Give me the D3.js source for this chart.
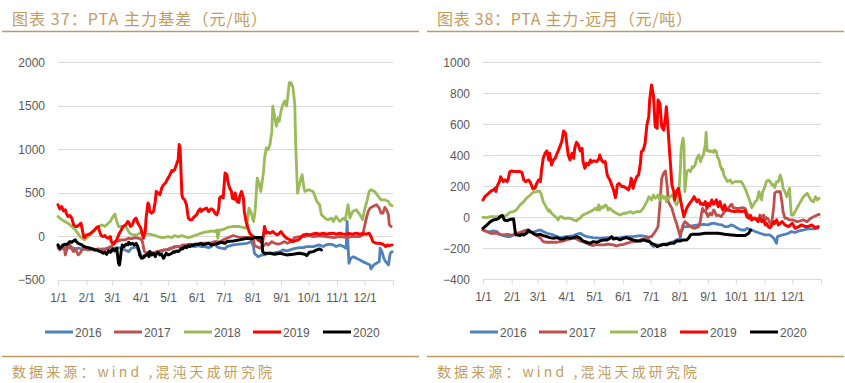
<!DOCTYPE html>
<html><head><meta charset="utf-8">
<script src="https://cdn.jsdelivr.net/npm/d3@7"></script>
<style>
html,body{margin:0;padding:0;background:#fff;}
svg{display:block;}
</style></head>
<body>
<svg id="c" width="845" height="383"></svg>
<script>
// ---------- data ----------
const titles = ["图表 37：PTA 主力基差（元/吨）", "图表 38：PTA 主力-远月（元/吨）"];
const sourceText = "数据来源：wind ,混沌天成研究院";
const years = ["2016", "2017", "2018", "2019", "2020"];
const monthLabels = ["1/1","2/1","3/1","4/1","5/1","6/1","7/1","8/1","9/1","10/1","11/1","12/1"];
const monthDays = [0,31,59,90,120,151,181,212,243,273,304,334];
const yearEndDay = 365;
const basisTicks = [-500, 0, 500, 1000, 1500, 2000];
const spreadTicks = [-400, -200, 0, 200, 400, 600, 800, 1000];

// 基差 [day of year, 元/吨]
const basis2016 = [[0,-138],[4,-146],[8,-131],[11,-138],[15,-131],[19,-146],[22,-138],[26,-146],[29,-146],[33,-158],[37,-146],[40,-158],[44,-158],[48,-146],[51,-146],[55,-138],[58,-146],[62,-138],[66,-131],[69,-138],[73,-158],[77,-177],[80,-138],[86,-119],[87,-158],[89,-177],[91,-235],[95,-215],[98,-208],[102,-196],[106,-196],[109,-185],[113,-177],[116,-158],[120,-158],[124,-138],[127,-119],[131,-119],[135,-131],[138,-119],[142,-100],[146,-100],[149,-119],[153,-108],[156,-119],[160,-119],[164,-131],[167,-119],[171,-62],[173,-119],[175,-131],[178,-138],[182,-146],[184,-119],[191,-100],[198,-92],[206,-81],[211,-62],[213,-119],[214,-196],[216,-215],[218,-235],[222,-215],[225,-215],[229,-196],[234,-196],[238,-185],[242,-177],[245,-158],[249,-169],[253,-158],[256,-146],[260,-138],[263,-131],[267,-131],[271,-119],[274,-119],[278,-119],[282,-108],[285,-100],[289,-119],[292,-100],[296,-92],[300,-100],[303,-119],[307,-100],[311,-119],[314,-138],[315,169],[316,-100],[317,-311],[319,-254],[322,-235],[325,-254],[329,-273],[332,-292],[336,-311],[340,-330],[341,-377],[344,-330],[347,-311],[350,-292],[351,-138],[353,-177],[355,-254],[357,-292],[360,-330],[362,-196],[364,-177]];
const basis2017 = [[0,-119],[2,-158],[5,-100],[7,-146],[8,-215],[10,-138],[13,-100],[15,-146],[17,-177],[19,-146],[22,-215],[24,-196],[26,-158],[29,-146],[33,-158],[37,-146],[40,-158],[44,-146],[48,-158],[51,-158],[55,-131],[58,-119],[62,-62],[66,-54],[69,-42],[73,-42],[77,-23],[80,-31],[84,-15],[87,-23],[90,-31],[92,-62],[94,-177],[97,-196],[100,-177],[104,-196],[107,-177],[111,-169],[115,-158],[118,-158],[122,-138],[126,-131],[129,-119],[133,-119],[136,-100],[140,-100],[144,-92],[147,-100],[151,-92],[155,-92],[158,-81],[162,-81],[165,-81],[169,-69],[173,-62],[176,-65],[180,-42],[184,-23],[191,8],[198,-15],[206,-15],[211,-15],[213,-42],[214,-100],[216,-119],[220,-138],[223,-119],[227,-81],[229,-100],[233,-62],[236,-81],[240,-92],[243,-81],[247,-62],[250,-81],[254,-62],[258,-15],[263,-4],[269,-4],[273,8],[278,-4],[285,4],[292,-4],[300,-15],[307,-4],[314,-12],[321,-4],[329,-4],[332,15],[334,112],[336,208],[338,285],[340,323],[343,342],[347,362],[350,323],[352,265],[354,265],[356,331],[358,304],[360,246],[361,131],[363,112]];
const basis2018 = [[0,227],[3,200],[6,177],[11,150],[15,112],[19,73],[24,-4],[29,-42],[33,-4],[37,35],[40,73],[44,112],[48,131],[51,112],[53,131],[57,169],[59,208],[62,254],[64,169],[66,112],[69,112],[73,123],[75,92],[78,35],[82,15],[86,15],[89,35],[93,35],[97,23],[100,23],[106,8],[109,-4],[113,-15],[116,-12],[120,-4],[124,-15],[127,8],[131,-8],[135,8],[138,-4],[142,-15],[146,-4],[149,8],[153,23],[156,35],[160,46],[164,54],[167,62],[171,54],[173,73],[174,-23],[176,73],[178,73],[182,85],[184,100],[191,112],[198,112],[204,92],[206,131],[208,323],[210,285],[213,169],[214,227],[215,323],[217,669],[219,612],[221,515],[222,592],[224,746],[225,900],[227,1015],[229,996],[231,1054],[233,1208],[234,1496],[236,1381],[238,1265],[240,1362],[241,1323],[243,1438],[245,1515],[247,1554],[249,1496],[250,1573],[252,1765],[254,1765],[256,1708],[258,1515],[259,1054],[261,496],[263,592],[266,708],[268,554],[269,515],[273,535],[278,515],[282,400],[285,362],[287,246],[291,208],[294,188],[298,208],[300,169],[303,227],[307,169],[311,208],[313,188],[316,362],[318,208],[321,285],[325,304],[329,246],[332,188],[334,304],[337,419],[339,515],[341,535],[345,515],[349,458],[352,419],[356,419],[360,400],[362,362],[364,350]];
const basis2019 = [[0,362],[2,315],[4,342],[6,292],[8,304],[9,265],[11,227],[13,238],[15,208],[17,131],[19,112],[21,112],[23,131],[25,150],[26,100],[28,-4],[29,-15],[31,15],[34,23],[37,46],[40,73],[42,100],[44,112],[45,62],[47,8],[49,-4],[51,8],[53,-15],[55,-23],[57,-4],[58,-62],[61,-90],[64,-42],[66,15],[69,73],[71,112],[74,131],[76,169],[77,162],[79,112],[81,131],[83,188],[85,208],[87,150],[88,131],[90,100],[92,15],[93,-23],[95,54],[96,208],[98,381],[99,362],[100,285],[102,265],[104,285],[106,400],[107,515],[109,496],[111,477],[113,554],[115,592],[117,611],[118,631],[120,669],[122,708],[124,754],[125,746],[127,765],[129,823],[131,881],[132,1054],[133,1015],[135,477],[136,438],[138,419],[140,362],[142,208],[144,188],[146,188],[147,208],[149,227],[151,246],[153,292],[155,315],[156,285],[158,304],[160,315],[162,323],[164,285],[165,292],[167,315],[169,304],[171,265],[173,246],[175,304],[176,438],[178,458],[180,440],[182,727],[184,708],[185,630],[187,554],[189,515],[190,438],[192,427],[193,496],[195,400],[197,388],[198,458],[200,515],[202,438],[203,285],[205,169],[207,92],[209,35],[211,8],[213,-4],[215,-15],[216,-23],[218,-42],[221,-62],[223,-62],[225,112],[226,73],[227,35],[229,46],[231,35],[234,54],[236,35],[239,15],[241,31],[243,54],[245,23],[247,-4],[249,-23],[253,-42],[256,-62],[258,-54],[262,-42],[264,-23],[267,15],[271,23],[274,15],[278,27],[281,35],[285,23],[289,35],[292,23],[296,31],[300,35],[303,23],[307,35],[310,27],[314,23],[317,31],[321,23],[325,35],[329,23],[332,31],[336,23],[339,35],[341,-4],[343,-62],[347,-81],[350,-81],[354,-92],[357,-119],[359,-100],[361,-108],[364,-100]];
const basis2020 = [[0,-100],[2,-138],[4,-119],[6,-100],[8,-92],[9,-100],[11,-81],[13,-62],[15,-69],[17,-54],[19,-42],[20,-62],[22,-81],[24,-92],[26,-100],[28,-119],[29,-119],[31,-131],[33,-131],[35,-138],[37,-146],[38,-146],[40,-158],[42,-158],[44,-169],[46,-177],[48,-185],[49,-196],[51,-185],[53,-208],[55,-169],[57,-185],[58,-177],[60,-146],[62,-169],[64,-138],[66,-311],[67,-330],[68,-254],[69,-158],[70,-100],[72,-119],[74,-92],[76,-100],[77,-69],[79,-92],[81,-81],[83,-100],[85,-81],[87,-119],[88,-158],[89,-215],[91,-254],[93,-246],[95,-223],[97,-215],[98,-196],[99,-235],[100,-177],[102,-215],[104,-196],[106,-235],[107,-208],[109,-185],[111,-215],[113,-208],[115,-254],[116,-235],[118,-196],[120,-215],[122,-208],[124,-196],[126,-177],[127,-185],[129,-169],[131,-177],[133,-158],[135,-138],[136,-146],[138,-119],[140,-131],[142,-108],[144,-119],[146,-100],[147,-112],[149,-92],[153,-92],[156,-81],[158,-100],[160,-92],[164,-81],[167,-100],[171,-92],[175,-81],[178,-69],[182,-81],[184,-62],[191,-54],[198,-42],[206,-23],[211,-31],[214,-15],[222,-15],[223,-177],[225,-196],[231,-196],[236,-208],[242,-196],[249,-215],[256,-208],[263,-196],[269,-208],[271,-223],[274,-185],[278,-177],[282,-158],[285,-146],[287,-158]];

// 主力-远月 [day of year, 元/吨]
const spread2016 = [[0,-82],[4,-92],[8,-92],[11,-88],[15,-92],[18,-110],[22,-118],[26,-125],[29,-125],[33,-114],[36,-110],[40,-103],[44,-103],[47,-92],[51,-97],[54,-97],[58,-88],[62,-82],[65,-92],[69,-103],[76,-114],[83,-131],[90,-125],[98,-118],[101,-110],[105,-103],[108,-114],[112,-125],[119,-131],[126,-135],[134,-131],[141,-135],[148,-131],[155,-125],[162,-125],[170,-118],[177,-125],[180,-157],[182,-178],[184,-189],[188,-178],[191,-178],[195,-174],[200,-168],[206,-157],[209,-146],[213,-135],[214,-92],[217,-60],[222,-60],[227,-54],[233,-49],[238,-45],[243,-49],[247,-39],[250,-39],[254,-45],[258,-49],[261,-60],[265,-60],[268,-49],[272,-60],[275,-71],[279,-82],[283,-82],[285,-71],[290,-82],[294,-92],[299,-103],[305,-114],[310,-114],[314,-135],[317,-168],[318,-125],[323,-114],[326,-110],[330,-103],[333,-92],[337,-97],[341,-88],[346,-82],[351,-75],[357,-75],[362,-71]];
const spread2017 = [[0,-82],[4,-92],[8,-103],[11,-103],[15,-103],[18,-110],[22,-114],[26,-110],[29,-114],[33,-114],[36,-103],[40,-97],[44,-88],[47,-82],[51,-92],[54,-103],[58,-118],[62,-135],[65,-157],[69,-161],[72,-161],[76,-161],[80,-161],[83,-157],[87,-153],[90,-146],[94,-140],[98,-135],[101,-140],[105,-153],[108,-157],[112,-168],[116,-178],[119,-183],[123,-174],[126,-178],[130,-178],[134,-174],[137,-174],[141,-178],[144,-185],[148,-178],[152,-174],[155,-168],[159,-161],[162,-157],[166,-153],[170,-146],[173,-140],[177,-135],[180,-125],[182,-125],[186,-92],[189,-60],[191,80],[193,252],[195,284],[197,299],[199,198],[200,101],[202,80],[204,58],[206,15],[207,-6],[209,-39],[211,-82],[213,-125],[214,-92],[216,-49],[218,-28],[222,-49],[226,-67],[229,-71],[233,-60],[235,-17],[236,26],[237,58],[238,37],[240,47],[242,15],[243,4],[245,26],[247,15],[249,47],[250,41],[252,11],[254,15],[257,4],[261,37],[265,58],[268,84],[269,84],[270,62],[274,58],[277,58],[280,62],[283,58],[285,26],[287,15],[290,-2],[294,-6],[297,-17],[299,15],[301,-6],[303,15],[305,-17],[306,-2],[308,-11],[310,-39],[312,-28],[314,69],[315,155],[317,166],[321,166],[323,90],[324,37],[326,-6],[328,-6],[331,-17],[335,-17],[339,-28],[342,-24],[346,-17],[350,-28],[353,-11],[357,4],[361,15],[363,19]];
const spread2018 = [[0,0],[4,-2],[8,4],[11,4],[15,4],[18,-2],[22,4],[26,15],[29,32],[33,37],[36,47],[40,80],[44,101],[47,123],[51,144],[54,161],[58,166],[61,170],[63,148],[65,101],[67,80],[69,58],[71,37],[72,47],[74,26],[76,15],[78,4],[80,-6],[81,-17],[83,4],[85,4],[87,-6],[90,-6],[94,-6],[98,-17],[101,-24],[103,-11],[105,-6],[107,11],[108,15],[112,26],[116,37],[119,47],[121,58],[123,47],[125,80],[126,47],[128,69],[130,62],[132,80],[134,69],[135,47],[137,58],[139,47],[141,37],[144,26],[148,15],[152,26],[155,26],[159,37],[162,26],[166,37],[170,37],[173,58],[175,80],[177,101],[179,133],[180,127],[182,112],[184,144],[186,123],[188,133],[189,144],[191,112],[193,144],[195,123],[197,133],[198,101],[200,123],[202,133],[204,144],[206,123],[207,101],[209,80],[211,101],[213,295],[214,445],[216,510],[217,467],[218,166],[220,295],[222,305],[224,295],[226,327],[227,320],[229,338],[231,381],[233,402],[235,359],[236,381],[238,402],[240,467],[241,548],[242,428],[243,434],[245,424],[247,428],[249,419],[250,434],[252,424],[253,391],[255,370],[256,338],[258,305],[259,312],[260,273],[262,252],[264,230],[267,241],[269,219],[272,230],[275,230],[279,230],[281,209],[283,187],[285,155],[287,123],[289,90],[290,62],[292,80],[294,101],[296,112],[298,166],[300,123],[301,112],[302,166],[303,176],[305,209],[306,230],[308,241],[310,230],[312,209],[313,213],[315,191],[317,230],[319,230],[321,273],[323,230],[324,187],[326,166],[328,133],[330,166],[331,187],[332,90],[333,15],[335,15],[337,37],[339,58],[341,80],[343,101],[344,112],[346,133],[348,144],[350,155],[351,144],[353,123],[355,105],[357,101],[359,133],[361,112],[363,123]];
const spread2019 = [[0,112],[2,133],[4,144],[6,155],[8,166],[9,170],[11,176],[13,187],[14,166],[15,198],[18,234],[19,262],[21,241],[22,230],[24,241],[26,230],[27,241],[29,295],[31,299],[33,295],[36,295],[40,295],[42,290],[44,241],[46,230],[49,241],[51,226],[53,198],[54,183],[56,187],[58,219],[60,241],[62,230],[63,295],[65,381],[67,413],[69,428],[71,370],[72,413],[74,338],[76,370],[78,381],[80,413],[81,424],[83,456],[85,488],[87,557],[89,542],[90,499],[92,402],[94,370],[96,413],[98,381],[99,445],[101,484],[103,467],[105,428],[107,445],[108,363],[110,316],[112,348],[114,338],[116,370],[117,355],[119,363],[121,363],[123,359],[125,376],[126,402],[128,370],[130,355],[132,359],[134,277],[135,262],[137,241],[139,209],[141,176],[143,127],[144,155],[145,209],[147,219],[150,198],[152,198],[155,187],[157,176],[159,209],[160,252],[161,234],[162,187],[164,230],[166,262],[168,273],[170,348],[171,424],[173,434],[175,477],[177,596],[179,649],[180,757],[182,854],[184,789],[186,585],[188,574],[189,757],[191,735],[193,585],[195,563],[197,639],[198,714],[200,553],[202,381],[204,209],[206,166],[207,112],[209,166],[211,187],[213,123],[215,58],[217,4],[218,26],[220,58],[222,80],[226,112],[228,133],[231,101],[233,112],[235,84],[236,90],[238,80],[240,101],[242,58],[243,90],[245,75],[247,112],[249,84],[250,90],[252,112],[254,69],[256,101],[257,75],[259,47],[261,80],[263,47],[265,47],[268,41],[272,37],[275,41],[279,37],[283,41],[285,4],[287,-6],[289,11],[290,-17],[294,-6],[297,-28],[299,-6],[301,-28],[303,-17],[305,-49],[306,-39],[308,-60],[310,-67],[312,-49],[314,-28],[315,-39],[317,-17],[319,-49],[323,-28],[326,-49],[330,-60],[334,-39],[337,-71],[341,-60],[344,-49],[348,-60],[351,-60],[355,-49],[359,-67],[362,-60]];
const spread2020 = [[0,-71],[4,-50],[8,-28],[11,-17],[15,-13],[17,-6],[19,9],[21,11],[23,-17],[26,-22],[28,-17],[30,-13],[33,-11],[35,-104],[36,-114],[38,-114],[40,-118],[42,-110],[44,-114],[45,-110],[47,-103],[49,-82],[51,-92],[53,-97],[54,-103],[56,-110],[58,-114],[62,-110],[65,-118],[69,-125],[72,-131],[76,-135],[80,-131],[83,-140],[87,-140],[90,-131],[94,-135],[98,-131],[101,-125],[105,-135],[108,-153],[112,-161],[116,-168],[119,-157],[123,-161],[126,-153],[130,-146],[134,-146],[137,-135],[139,-125],[141,-140],[144,-135],[148,-146],[152,-135],[155,-131],[159,-140],[162,-146],[166,-153],[170,-153],[173,-146],[177,-153],[180,-157],[182,-168],[186,-178],[188,-189],[191,-183],[195,-174],[198,-178],[202,-168],[206,-168],[209,-153],[213,-153],[216,-146],[220,-146],[222,-135],[224,-114],[226,-110],[233,-110],[240,-103],[247,-103],[254,-103],[261,-110],[268,-114],[275,-118],[283,-118],[287,-103],[289,-82]];

const basisSeries = [basis2016, basis2017, basis2018, basis2019, basis2020];
const spreadSeries = [spread2016, spread2017, spread2018, spread2019, spread2020];

// ---------- style ----------
const colors = ["#4f81bd", "#c0504d", "#9bbb59", "#ff0000", "#000000"];
const widths = [2.8, 2.8, 2.8, 3, 3];
const gold = "#c49b5e";
const goldLine = "#bb9a66";
const axisText = "#595959";
const gridColor = "#d9d9d9";

const svg = d3.select("#c");

function panel(opts) {
  const g = svg.append("g");
  // title
  g.append("text").attr("x", opts.ox + 12).attr("y", 25)
    .attr("font-family", "'Noto Sans CJK SC', sans-serif").attr("font-size", 16)
    .attr("fill", gold).attr("textLength", 255).attr("lengthAdjust", "spacing")
    .text(opts.title);
  g.append("line").attr("x1", opts.ox + 2).attr("x2", opts.ox + 419)
    .attr("y1", 31.5).attr("y2", 31.5).attr("stroke", goldLine).attr("stroke-width", 1.5);
  // footer
  g.append("line").attr("x1", opts.ox + 2).attr("x2", opts.ox + 419)
    .attr("y1", 356.5).attr("y2", 356.5).attr("stroke", goldLine).attr("stroke-width", 1.5);
  g.append("text").attr("x", opts.ox + 12).attr("y", 377)
    .attr("font-family", "'Noto Sans CJK SC', sans-serif").attr("font-size", 14)
    .attr("fill", gold).attr("textLength", 260).attr("lengthAdjust", "spacing")
    .text(sourceText);

  const x = d3.scaleLinear().domain([0, yearEndDay]).range([opts.x0, opts.x1]);
  const y = d3.scaleLinear().domain(opts.yDomain).range([opts.yBottom, opts.yTop]);

  // grid
  const gy = g.append("g");
  gy.selectAll("line").data(opts.ticks.slice(1)).join("line")
    .attr("x1", opts.x0).attr("x2", opts.x1)
    .attr("y1", d => Math.round(y(d)) + 0.5).attr("y2", d => Math.round(y(d)) + 0.5)
    .attr("stroke", gridColor).attr("stroke-width", 1);

  // y axis labels
  const yAxis = d3.axisLeft(y).tickValues(opts.ticks).tickSize(0).tickPadding(0).tickFormat(d3.format("d"));
  const ya = g.append("g").attr("transform", `translate(${opts.x0 - 13},0)`).call(yAxis);
  ya.select(".domain").remove();
  ya.selectAll("text").attr("font-family", "'Liberation Sans', Arial, sans-serif")
    .attr("font-size", 12).attr("fill", axisText);

  // x axis
  const xAxis = d3.axisBottom(x).tickValues(monthDays.concat([yearEndDay])).tickSize(5).tickPadding(8)
    .tickFormat((d, i) => i < monthLabels.length ? monthLabels[i] : "");
  const xa = g.append("g").attr("transform", `translate(0,${Math.round(opts.yBottom) + 0.5})`).call(xAxis);
  xa.select(".domain").attr("stroke", gridColor).attr("d", `M${opts.x0},0H${opts.x1}`);
  xa.selectAll(".tick line").attr("stroke", gridColor);
  xa.selectAll("text").attr("font-family", "'Liberation Sans', Arial, sans-serif")
    .attr("font-size", 12).attr("fill", axisText);

  // lines
  const line = d3.line().x(d => x(d[0])).y(d => y(d[1])).curve(d3.curveLinear);
  opts.series.forEach((s, i) => {
    g.append("path").datum(s).attr("d", line).attr("fill", "none")
      .attr("stroke", colors[i]).attr("stroke-width", widths[i])
      .attr("stroke-linejoin", "round").attr("stroke-linecap", "round");
  });

  // legend
  const lg = g.append("g");
  years.forEach((yr, i) => {
    const lx = opts.ox + opts.legendX[i];
    lg.append("line").attr("x1", lx).attr("x2", lx + 28).attr("y1", 332).attr("y2", 332)
      .attr("stroke", colors[i]).attr("stroke-width", 3);
    lg.append("text").attr("x", lx + 30).attr("y", 336.5)
      .attr("font-family", "'Liberation Sans', Arial, sans-serif").attr("font-size", 12)
      .attr("fill", axisText).text(yr);
  });
}

panel({
  ox: 0, title: titles[0], x0: 58, x1: 393, yTop: 62.3, yBottom: 279.7,
  yDomain: [-500, 2000], ticks: basisTicks, series: basisSeries,
  legendX: [45, 114, 184, 253, 323]
});
panel({
  ox: 425, title: titles[1], x0: 483, x1: 821, yTop: 62.3, yBottom: 279.3,
  yDomain: [-400, 1000], ticks: spreadTicks, series: spreadSeries,
  legendX: [45, 114, 185, 255, 325]
});
</script>
</body></html>
